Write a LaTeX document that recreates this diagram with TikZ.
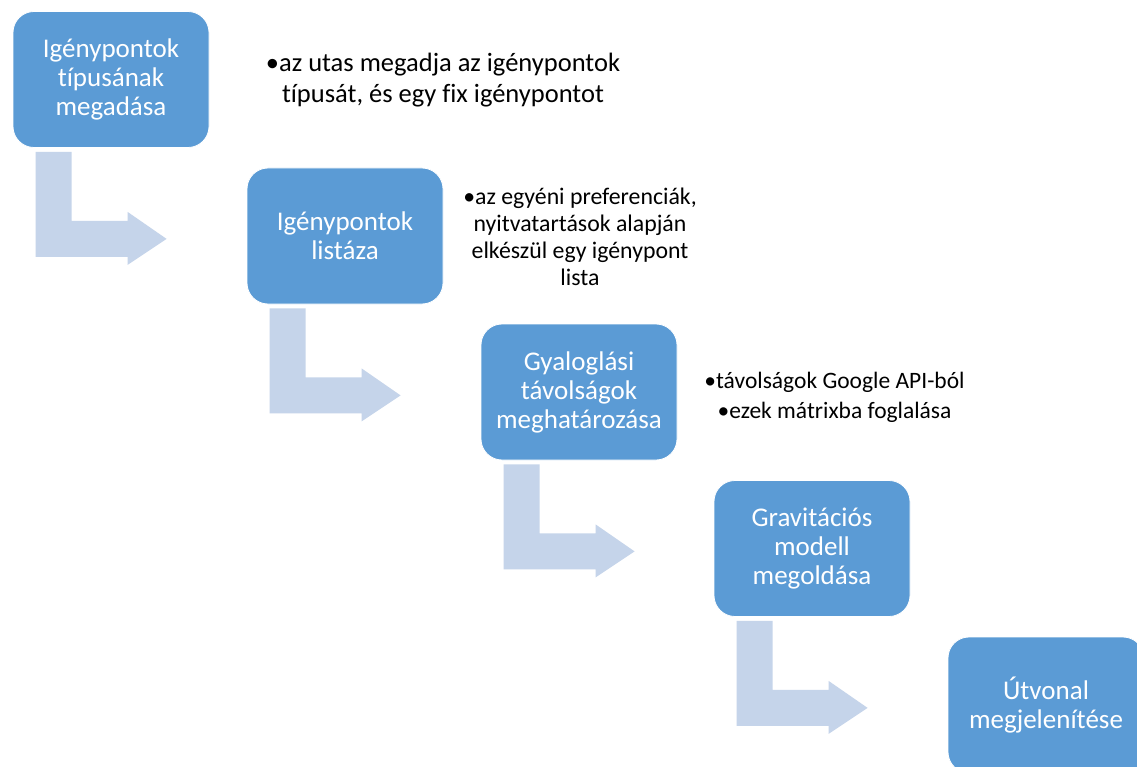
\documentclass[tikz,border=0pt]{standalone}
\usepackage{fontspec}
\setmainfont{Carlito}[Ligatures=NoCommon]
\usetikzlibrary{calc}
\definecolor{stepblue}{HTML}{5B9BD5}
\definecolor{bendblue}{HTML}{C5D4EA}
\tikzset{
  stepbox/.style={fill=stepblue, draw=white, line width=0.8pt, rounded corners=21pt,
    minimum width=196pt, minimum height=136pt, inner sep=0pt, align=center,
    text=white, font=\fontsize{27}{29}\selectfont},
  note/.style={align=center, inner sep=0pt, text=black},
  bentshape/.style={fill=bendblue, draw=none}
}
% bent arrow hanging below a step box, pointing right towards the next step
\newcommand{\bentarrow}[2]{%
  \fill[bentshape] ($(#1.south west)+(23,4)$) -- ($(#1.south west)+(59,4)$)
    -- ($(#1.south west)+(59,73)$) -- ($(#1.south west)+(115,73)$)
    -- ($(#1.south west)+(115,64)$) -- ($(#1.south west)+(154,91)$) coordinate (#2)
    -- ($(#1.south west)+(115,117)$) -- ($(#1.south west)+(115,109)$)
    -- ($(#1.south west)+(23,109)$) -- cycle;}
\begin{document}
\begin{tikzpicture}[x=1pt, y=-1pt]
  \clip (0,0) rectangle (1137,767);
  \fill[white] (0,0) rectangle (1137,767);

  \node[stepbox] (s1) at (111,79.5)  {Igénypontok\\típusának\\megadása};
  \node[stepbox] (s2) at (345,236)   {Igénypontok\\listáza};
  \node[stepbox] (s3) at (579,392)   {Gyaloglási\\távolságok\\meghatározása};
  \node[stepbox] (s4) at (812,548.5) {Gravitációs\\modell\\megoldása};
  \node[stepbox] (s5) at (1046,705)  {Útvonal\\megjelenítése};

  \node[note, font=\fontsize{26.5}{31}\selectfont] (n1) at (443,80)
    {•az utas megadja az igénypontok\\típusát, és egy fix igénypontot};
  \node[note, font=\fontsize{23.8}{27}\selectfont] (n2) at (580,237)
    {•az egyéni preferenciák,\\nyitvatartások alapján\\elkészül egy igénypont\\lista};
  \node[note, font=\fontsize{23.5}{30}\selectfont] (n3) at (834.5,397)
    {•távolságok Google API-ból\\•ezek mátrixba foglalása};

  \bentarrow{s1}{t1}
  \bentarrow{s2}{t2}
  \bentarrow{s3}{t3}
  \bentarrow{s4}{t4}
\end{tikzpicture}
\end{document}
